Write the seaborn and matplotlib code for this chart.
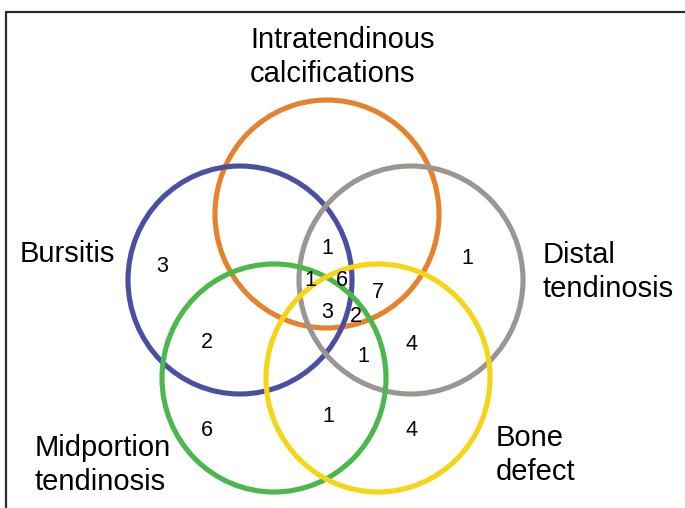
import matplotlib
matplotlib.use("Agg")
import matplotlib.pyplot as plt
from matplotlib.patches import Ellipse
import seaborn as sns

# sets in the Venn diagram
set_labels = ["Intratendinous\ncalcifications", "Bursitis", "Distal\ntendinosis",
              "Midportion\ntendinosis", "Bone\ndefect"]
set_colors = ["#E5822B", "#4A4FA2", "#9D9690", "#4CB74B", "#F6D514"]

# counts in each region
region_counts = [3, 1, 1, 6, 7, 3, 2, 1, 4, 1, 2, 6, 1, 4]

# layout (pixel coords of the original picture)
circle_centers = [(327, 214), (240, 280), (411, 280), (274, 378), (378, 378)]
label_pos = [(250, 57), (20, 254), (543, 272), (35, 465), (496, 455)]
count_pos = [(162, 266), (327, 248), (310, 280), (342, 280), (378, 292),
             (327, 312), (356, 316), (363, 356), (412, 344), (467, 258),
             (207, 343), (207, 431), (328, 416), (412, 431)]

sns.set_theme(style="white")
plt.rcParams["font.family"] = ["Liberation Sans", "DejaVu Sans"]

fig = plt.figure(figsize=(6.85, 5.08), dpi=100)
ax = fig.add_axes([0, 0, 1, 1])
ax.set_xlim(0, 685)
ax.set_ylim(508, 0)
ax.axis("off")

for (cx, cy), col in zip(circle_centers, set_colors):
    ax.add_patch(Ellipse((cx, cy), 224, 228, fill=False, edgecolor=col, lw=3.7))

for (x, y), txt in zip(label_pos, set_labels):
    ax.text(x, y, txt, fontsize=21, ha="left", va="center", linespacing=1.3,
            color="black")

for (x, y), n in zip(count_pos, region_counts):
    ax.text(x, y, str(n), fontsize=15.5, ha="center", va="center", color="black")

# partial frame
ax.plot([5, 685], [12, 12], color="#2b2b2b", lw=1.6, solid_capstyle="butt")
ax.plot([6, 6], [12, 508], color="#2b2b2b", lw=1.6, solid_capstyle="butt")

fig.savefig("out.png", dpi=100, facecolor="white")
